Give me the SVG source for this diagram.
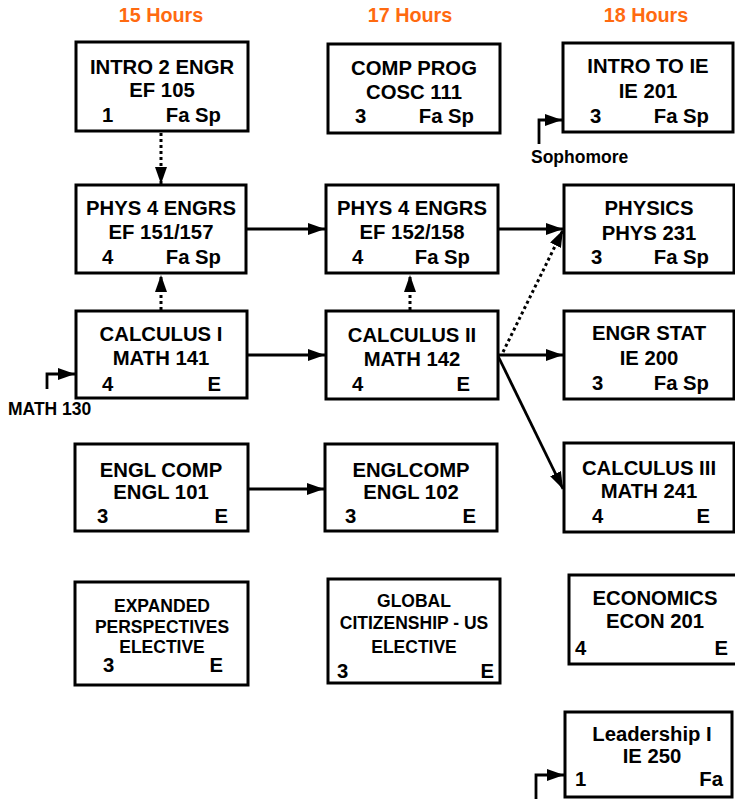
<svg xmlns="http://www.w3.org/2000/svg" width="735" height="799" viewBox="0 0 735 799">
<style>
.bx{fill:#fff;stroke:#000;stroke-width:3}
text{font-family:"Liberation Sans",Arial,sans-serif;font-weight:bold;fill:#000}
.t{font-size:20.3px}
.c{text-anchor:middle}
.r{text-anchor:end}
.s{font-size:17.5px}
.h{font-size:19.8px;fill:#FF6A10;text-anchor:middle}
.ln{fill:none;stroke:#000;stroke-width:2.8}
.dt{fill:none;stroke:#000;stroke-width:3;stroke-dasharray:3 3}
</style>
<defs>
<marker id="ah" markerUnits="userSpaceOnUse" markerWidth="18" markerHeight="13" refX="17" refY="6" orient="auto">
<path d="M0,0 L17,6 L0,12 z" fill="#000"/>
</marker>
</defs>
<g id="headers">
<text class="h" x="161" y="22">15 Hours</text>
<text class="h" x="410" y="22">17 Hours</text>
<text class="h" x="646" y="22">18 Hours</text>
</g>
<g id="connectors">
<line class="dt" x1="161" y1="133" x2="161" y2="184" marker-end="url(#ah)"/>
<line class="dt" x1="161" y1="310" x2="161" y2="275" marker-end="url(#ah)"/>
<line class="dt" x1="410" y1="310" x2="410" y2="275" marker-end="url(#ah)"/>
<line class="ln" x1="247" y1="229" x2="325" y2="229" marker-end="url(#ah)"/>
<line class="ln" x1="499" y1="229" x2="563" y2="229" marker-end="url(#ah)"/>
<line class="dt" x1="503" y1="352" x2="563" y2="230" marker-end="url(#ah)"/>
<line class="ln" x1="248" y1="355" x2="325" y2="355" marker-end="url(#ah)"/>
<line class="ln" x1="498" y1="355" x2="563" y2="355" marker-end="url(#ah)"/>
<line class="ln" x1="498" y1="356" x2="563" y2="489" marker-end="url(#ah)"/>
<line class="ln" x1="249" y1="489" x2="324" y2="489" marker-end="url(#ah)"/>
<path class="ln" d="M539,144 V120 H562" marker-end="url(#ah)"/>
<path class="ln" d="M47,389 V374 H75" marker-end="url(#ah)"/>
<path class="ln" d="M536,799 V775 H564" marker-end="url(#ah)"/>
</g>
<g id="n-sophomore"><text class="s" x="531" y="163">Sophomore</text></g>
<g id="n-math130"><text class="s" x="8" y="415">MATH 130</text></g>
<g id="n-ef105">
<rect class="bx" x="76" y="42" width="172" height="89"/>
<text class="t c" x="162" y="74">INTRO 2 ENGR</text>
<text class="t c" x="162" y="97">EF 105</text>
<text class="t" x="102" y="122">1</text>
<text class="t r" x="221" y="122">Fa Sp</text>
</g>
<g id="n-cosc111">
<rect class="bx" x="328" y="44" width="172" height="89"/>
<text class="t c" x="414" y="75">COMP PROG</text>
<text class="t c" x="414" y="99">COSC 111</text>
<text class="t" x="355" y="123">3</text>
<text class="t r" x="474" y="123">Fa Sp</text>
</g>
<g id="n-ie201">
<rect class="bx" x="563" y="43" width="170" height="89"/>
<text class="t c" x="648" y="73">INTRO TO IE</text>
<text class="t c" x="648" y="98">IE 201</text>
<text class="t" x="590" y="123">3</text>
<text class="t r" x="709" y="123">Fa Sp</text>
</g>
<g id="n-ef151">
<rect class="bx" x="76" y="185" width="170" height="88"/>
<text class="t c" x="161" y="215">PHYS 4 ENGRS</text>
<text class="t c" x="161" y="239">EF 151/157</text>
<text class="t" x="102" y="264">4</text>
<text class="t r" x="221" y="264">Fa Sp</text>
</g>
<g id="n-ef152">
<rect class="bx" x="326" y="185" width="172" height="88"/>
<text class="t c" x="412" y="215">PHYS 4 ENGRS</text>
<text class="t c" x="412" y="239">EF 152/158</text>
<text class="t" x="352" y="264">4</text>
<text class="t r" x="470" y="264">Fa Sp</text>
</g>
<g id="n-phys231">
<rect class="bx" x="564" y="185" width="170" height="88"/>
<text class="t c" x="649" y="215">PHYSICS</text>
<text class="t c" x="649" y="240">PHYS 231</text>
<text class="t" x="591" y="264">3</text>
<text class="t r" x="709" y="264">Fa Sp</text>
</g>
<g id="n-math141">
<rect class="bx" x="76" y="311" width="171" height="87"/>
<text class="t c" x="161" y="341">CALCULUS I</text>
<text class="t c" x="161" y="365">MATH 141</text>
<text class="t" x="102" y="391">4</text>
<text class="t r" x="221" y="391">E</text>
</g>
<g id="n-math142">
<rect class="bx" x="326" y="311" width="172" height="88"/>
<text class="t c" x="412" y="342">CALCULUS II</text>
<text class="t c" x="412" y="366">MATH 142</text>
<text class="t" x="352" y="391">4</text>
<text class="t r" x="470" y="391">E</text>
</g>
<g id="n-ie200">
<rect class="bx" x="564" y="311" width="170" height="88"/>
<text class="t c" x="649" y="340">ENGR STAT</text>
<text class="t c" x="649" y="365">IE 200</text>
<text class="t" x="592" y="390">3</text>
<text class="t r" x="709" y="390">Fa Sp</text>
</g>
<g id="n-engl101">
<rect class="bx" x="75" y="444" width="173" height="87"/>
<text class="t c" x="161" y="477">ENGL COMP</text>
<text class="t c" x="161" y="499">ENGL 101</text>
<text class="t" x="97" y="523">3</text>
<text class="t r" x="228" y="523">E</text>
</g>
<g id="n-engl102">
<rect class="bx" x="325" y="444" width="172" height="87"/>
<text class="t c" x="411" y="477">ENGLCOMP</text>
<text class="t c" x="411" y="499">ENGL 102</text>
<text class="t" x="345" y="523">3</text>
<text class="t r" x="476" y="523">E</text>
</g>
<g id="n-math241">
<rect class="bx" x="564" y="443" width="170" height="89"/>
<text class="t c" x="649" y="475">CALCULUS III</text>
<text class="t c" x="649" y="498">MATH 241</text>
<text class="t" x="592" y="523">4</text>
<text class="t r" x="710" y="523">E</text>
</g>
<g id="n-expanded">
<rect class="bx" x="75" y="582" width="173" height="103"/>
<text class="s c" x="162" y="612">EXPANDED</text>
<text class="s c" x="162" y="633">PERSPECTIVES</text>
<text class="s c" x="162" y="653">ELECTIVE</text>
<text class="t" x="103" y="672">3</text>
<text class="t r" x="223" y="672">E</text>
</g>
<g id="n-global">
<rect class="bx" x="328" y="579" width="172" height="104"/>
<text class="s c" x="414" y="607">GLOBAL</text>
<text class="s c" x="414" y="629">CITIZENSHIP - US</text>
<text class="s c" x="414" y="653">ELECTIVE</text>
<text class="t" x="337" y="678">3</text>
<text class="t r" x="494" y="678">E</text>
</g>
<g id="n-econ201">
<rect class="bx" x="569" y="575" width="172" height="89"/>
<text class="t c" x="655" y="605">ECONOMICS</text>
<text class="t c" x="655" y="628">ECON 201</text>
<text class="t" x="575" y="655">4</text>
<text class="t r" x="728" y="655">E</text>
</g>
<g id="n-ie250">
<rect class="bx" x="565" y="712" width="167" height="85"/>
<text class="t c" x="652" y="741">Leadership I</text>
<text class="t c" x="652" y="763">IE 250</text>
<text class="t" x="575" y="786">1</text>
<text class="t r" x="723" y="786">Fa</text>
</g>
</svg>
